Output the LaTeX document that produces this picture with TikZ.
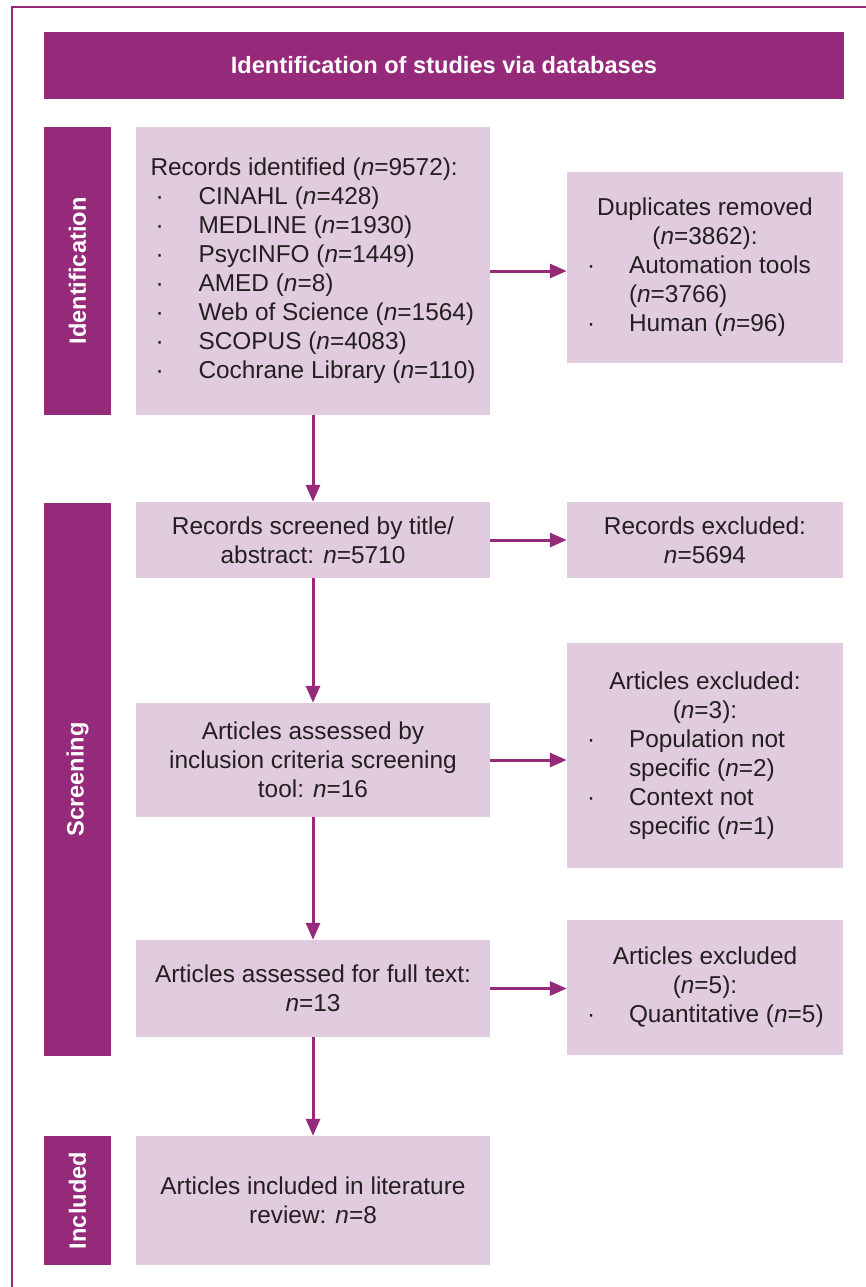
\documentclass[tikz,border=0pt]{standalone}
\usepackage{fontspec}
\setmainfont{Liberation Sans}
\usepackage{tikz}
\usetikzlibrary{shapes,arrows,arrows.meta}
\definecolor{plum}{RGB}{150,42,122}
\definecolor{lilac}{RGB}{225,203,223}
\definecolor{ink}{RGB}{35,31,32}
\tikzstyle{line} = [draw=plum, line width=3pt, -{Triangle[length=17pt,width=14pt]}]
\tikzstyle{frame} = [draw=plum, line width=2pt]
\tikzstyle{banner} = [rectangle, fill=plum, text=white, minimum width=800pt, minimum height=67pt, inner sep=0pt, font=\fontsize{23.6}{29}\selectfont\bfseries]
\tikzstyle{phase} = [rectangle, fill=plum, text=white, rotate=90, minimum height=67pt, inner sep=0pt, font=\fontsize{23.6}{29}\selectfont\bfseries]
\tikzstyle{stage} = [rectangle, fill=lilac, text=ink, align=center, minimum width=354pt, inner sep=0pt, font=\fontsize{24.4}{29}\selectfont]
\tikzstyle{excl} = [stage, minimum width=276pt]

\newcommand{\recitem}[1]{\makebox[48pt][l]{\hspace{5pt}·}#1}
\newcommand{\dotitem}[1]{\makebox[238pt][l]{\makebox[43pt][l]{\hspace{1pt}·}#1}}
\newcommand{\contitem}[1]{\makebox[238pt][l]{\hspace{43pt}#1}}

\begin{document}
\begin{tikzpicture}[x=1pt, y=-1pt]
\useasboundingbox (0,0) rectangle (866,1287);
\draw [frame] (11.5,1287) -- (11.5,7.5) -- (866,7.5);

\node [banner] (title) at (444,65.5) {Identification of studies via databases};

% main column
\node [stage, align=left, minimum height=288pt] (rec) at (313,271) {Records identified (\textit{n}=9572):\\
	\recitem{CINAHL (\textit{n}=428)}\\
	\recitem{MEDLINE (\textit{n}=1930)}\\
	\recitem{PsycINFO (\textit{n}=1449)}\\
	\recitem{AMED (\textit{n}=8)}\\
	\recitem{Web of Science (\textit{n}=1564)}\\
	\recitem{SCOPUS (\textit{n}=4083)}\\
	\recitem{Cochrane Library (\textit{n}=110)}};
\node [stage, below of=rec, node distance=269pt, minimum height=76pt] (scr) {Records screened by title/\\abstract: \textit{n}=5710};
\node [stage, below of=scr, node distance=220pt, minimum height=114pt] (asm) {Articles assessed by\\inclusion criteria screening\\tool: \textit{n}=16};
\node [stage, below of=asm, node distance=228.5pt, minimum height=97pt] (full) {Articles assessed for full text:\\\textit{n}=13};
\node [stage, below of=full, node distance=212pt, minimum height=129pt] (inc) {Articles included in literature\\review: \textit{n}=8};

% exclusions
\node [excl, right of=rec, node distance=392pt, yshift=3.5pt, minimum height=191pt] (dup) {Duplicates removed\\(\textit{n}=3862):\\
	\dotitem{Automation tools}\\
	\contitem{(\textit{n}=3766)}\\
	\dotitem{Human (\textit{n}=96)}};
\node [excl, right of=scr, node distance=392pt, minimum height=76pt] (rexc) {Records excluded:\\\textit{n}=5694};
\node [excl, right of=asm, node distance=392pt, yshift=4.5pt, minimum height=225pt] (aexc) {Articles excluded:\\(\textit{n}=3):\\
	\dotitem{Population not}\\
	\contitem{specific (\textit{n}=2)}\\
	\dotitem{Context not}\\
	\contitem{specific (\textit{n}=1)}};
\node [excl, right of=full, node distance=392pt, yshift=1pt, minimum height=135pt] (fexc) {Articles excluded\\(\textit{n}=5):\\
	\dotitem{Quantitative (\textit{n}=5)}};

% phases
\node [phase, minimum width=288pt] (idph) at (77.5,271) {Identification};
\node [phase, minimum width=553pt] (scph) at (77.5,779.5) {Screening};
\node [phase, minimum width=129pt] (inph) at (77.5,1200.5) {Included};

\path [line] (rec.south) to (scr.north);
\path [line] (scr.south) to (asm.north);
\path [line] (asm.south) to (full.north);
\path [line] (full.south) to (inc.north);

\path [line] (rec.east) to (rec.east -| dup.west);
\path [line] (scr.east) to (rexc.west);
\path [line] (asm.east) to (asm.east -| aexc.west);
\path [line] (full.east) to (full.east -| fexc.west);
\end{tikzpicture}
\end{document}
